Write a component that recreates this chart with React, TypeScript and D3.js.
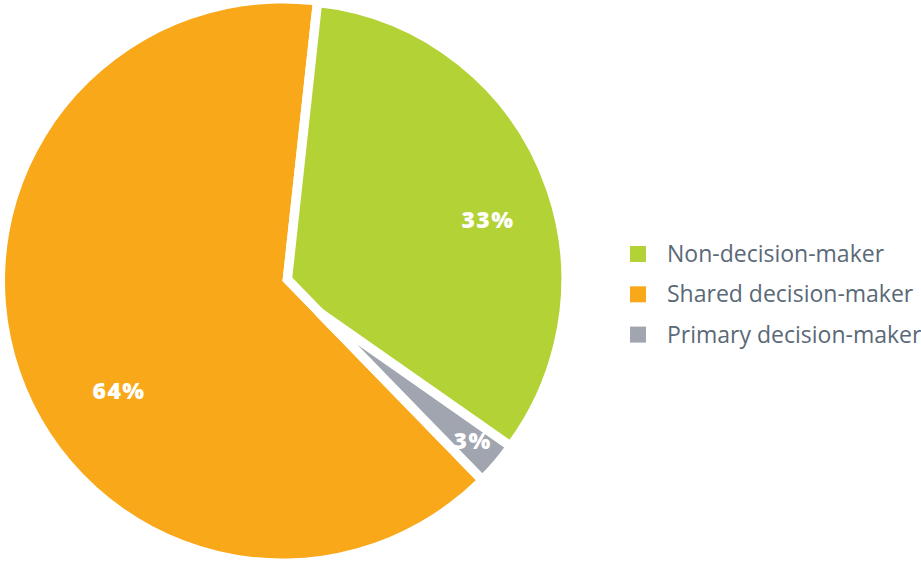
import React from "react";
import * as d3 from "d3";

// ---- data ----
const categories = ["Non-decision-maker", "Primary decision-maker", "Shared decision-maker"];
const values = [33, 3, 64];
const legendOrder = ["Non-decision-maker", "Shared decision-maker", "Primary decision-maker"];
const labels = ["33%", "3%", "64%"];

// ---- style ----
const colors: Record<string, string> = {
  "Non-decision-maker": "#b2d235",
  "Shared decision-maker": "#f9a81a",
  "Primary decision-maker": "#a1a5af",
};
const W = 921;
const H = 561;
const CX = 282.5;
const CY = 281;
const START = (6.2 * Math.PI) / 180;
const GAP = 9.4;
const deg = Math.PI / 180;
// per-slice drawing style: explode distance, radius, label polar position
const sliceStyle: Record<string, { explode: number; radius: number; labelAngle: number; labelR: number }> = {
  "Non-decision-maker": { explode: 5.2, radius: 278.5, labelAngle: 73.2, labelR: 214.6 },
  "Primary decision-maker": { explode: 48, radius: 234, labelAngle: 129.9, labelR: 247.8 },
  "Shared decision-maker": { explode: 0, radius: 277.5, labelAngle: 236.3, labelR: 196.5 },
};

export default function App() {
  const pie = d3
    .pie<number>()
    .sort(null)
    .value((d) => d)
    .startAngle(START)
    .endAngle(START + 2 * Math.PI);
  const arcs = pie(values);
  const byName: Record<string, d3.PieArcDatum<number>> = {};
  categories.forEach((c, i) => (byName[c] = arcs[i]));

  const green = byName["Non-decision-maker"];
  const gray = byName["Primary decision-maker"];
  const orange = byName["Shared decision-maker"];

  const arcGen = d3.arc<any>().innerRadius(0);

  const off = (a0: number, a1: number, e: number) => {
    const m = (a0 + a1) / 2;
    return [e * Math.sin(m), -e * Math.cos(m)];
  };

  // orange: base layer
  const oS = sliceStyle["Shared decision-maker"];
  const orangePath = arcGen({ startAngle: orange.startAngle, endAngle: orange.endAngle, outerRadius: oS.radius });

  // green: spans its own sector plus the space left by the exploded gray slice
  const gS = sliceStyle["Non-decision-maker"];
  const gA0 = green.startAngle;
  const gA1 = gray.endAngle;
  const gOff = off(gA0, gA1, gS.explode);
  const greenPath = arcGen({ startAngle: gA0, endAngle: gA1, outerRadius: gS.radius });

  // gray: exploded
  const pS = sliceStyle["Primary decision-maker"];
  const pOff = off(gray.startAngle, gray.endAngle, pS.explode);
  const grayPath = arcGen({ startAngle: gray.startAngle, endAngle: gray.endAngle, outerRadius: pS.radius });

  const labelPos = categories.map((c) => {
    const s = sliceStyle[c];
    const a = s.labelAngle * deg;
    return [CX + s.labelR * Math.sin(a), CY - s.labelR * Math.cos(a)];
  });

  return (
    <svg
      width={W}
      height={H}
      viewBox={`0 0 ${W} ${H}`}
      style={{ position: "absolute", left: 0, top: 0, display: "block", background: "#fff" }}
    >
      <g transform={`translate(${CX},${CY})`}>
        <path d={orangePath || ""} fill={colors["Shared decision-maker"]} />
        <path
          d={greenPath || ""}
          transform={`translate(${gOff[0]},${gOff[1]})`}
          fill={colors["Non-decision-maker"]}
          stroke="#fff"
          strokeWidth={GAP}
          strokeLinejoin="miter"
        />
        <path
          d={grayPath || ""}
          transform={`translate(${pOff[0]},${pOff[1]})`}
          fill={colors["Primary decision-maker"]}
          stroke="#fff"
          strokeWidth={GAP}
          strokeLinejoin="round"
        />
      </g>
      {categories.map((c, i) => (
        <text
          key={c}
          x={labelPos[i][0]}
          y={labelPos[i][1]}
          textAnchor="middle"
          dominantBaseline="central"
          fill="#fff"
          fontFamily="'Open Sans', sans-serif"
          fontWeight={800}
          fontSize={23}
          letterSpacing={1.4}
        >
          {labels[i]}
        </text>
      ))}
      <g>
        {legendOrder.map((c, i) => (
          <g key={c} transform={`translate(630,${246 + i * 40.3})`}>
            <rect width={16} height={16} fill={colors[c]} />
            <text
              x={37}
              y={16}
              fill="#5a6977"
              fontFamily="'Open Sans', sans-serif"
              fontWeight={500}
              fontSize={23}
            >
              {c}
            </text>
          </g>
        ))}
      </g>
    </svg>
  );
}
